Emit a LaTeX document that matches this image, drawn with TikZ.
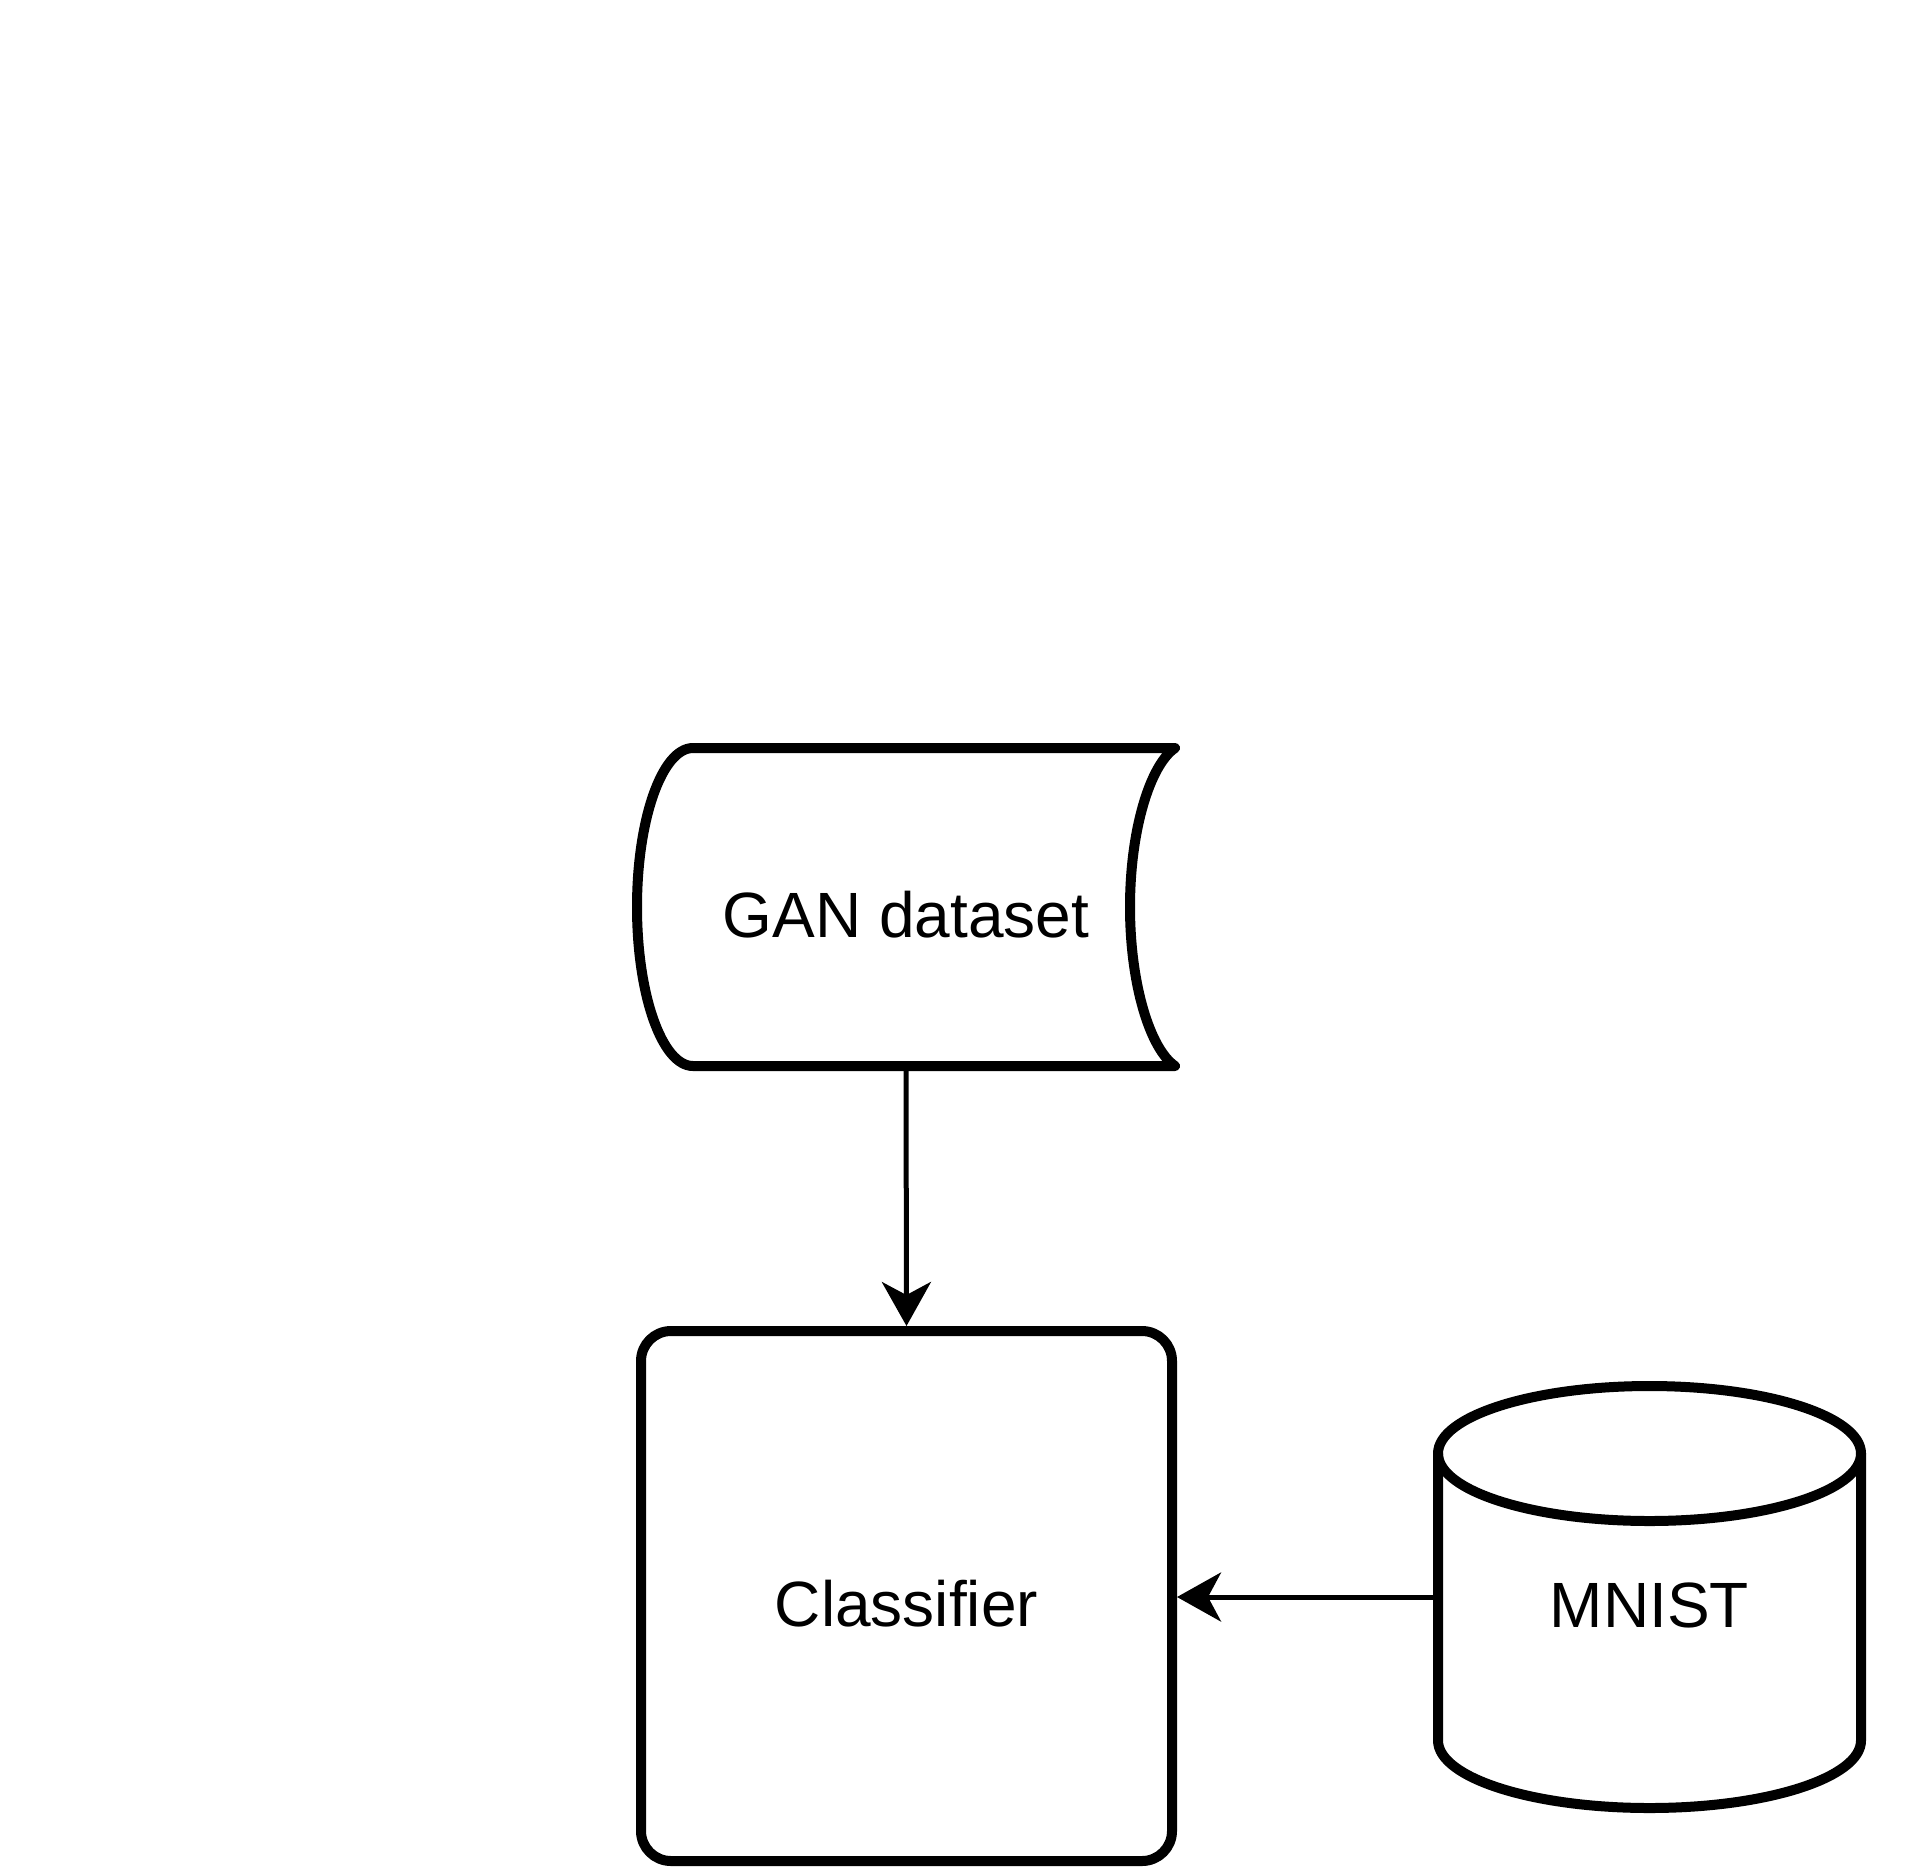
\documentclass[tikz,border=0pt]{standalone}
\usepackage{fontspec}
\setmainfont{Liberation Sans}
\usetikzlibrary{arrows.meta}

\begin{document}
\begin{tikzpicture}[
  x = 0.5pt, y = -0.5pt,  % units of the picture: pixels, y going down
  line width = 5pt, line join = round,
  every node/.style = {font = \fontsize{32}{38}\selectfont,
    text height = 30pt, text depth = 0pt, inner sep = 0pt},
  store/.style = {outer sep = 0pt},
  box/.style = {draw, rounded corners = 15pt},
  feed/.style = {line width = 2.5pt,
    -{Stealth[length = 22pt, width = 24.5pt, inset = 6.5pt]}}
]
\useasboundingbox (0,0) rectangle (1920,1867);

\node[store, minimum width = 269pt, minimum height = 159pt](gan) at (906,907) {GAN dataset};
\node[box, minimum width = 265.5pt, minimum height = 265pt](clf) at (906.5,1596) {Classifier};
\node[store, minimum width = 211.5pt, minimum height = 211pt](mnist) at (1649.5,1597) {MNIST};

% stored data outline
\draw[shift = {(gan.north west)}] (56,0) -- (538,0)
  .. controls (513,17) and (493,82) .. (493,159)
  .. controls (493,236) and (513,301) .. (538,318)
  -- (56,318)
  arc[start angle = 270, end angle = 90, x radius = 28pt, y radius = 79.5pt]
  -- cycle;

% cylinder outline
\draw[shift = {(mnist.north west)}] (0,67.5) -- (0,354.5)
  arc[start angle = 180, end angle = 360, x radius = 105.75pt, y radius = 33.75pt]
  -- (423,67.5);
\draw[shift = {(mnist.north)}] (0,67.5)
  ellipse[x radius = 105.75pt, y radius = 33.75pt];

% Arrows
\draw[feed] (gan.south) -- (clf.north);
\draw[feed] (mnist.west) -- (mnist.west -| clf.east);

\end{tikzpicture}
\end{document}
